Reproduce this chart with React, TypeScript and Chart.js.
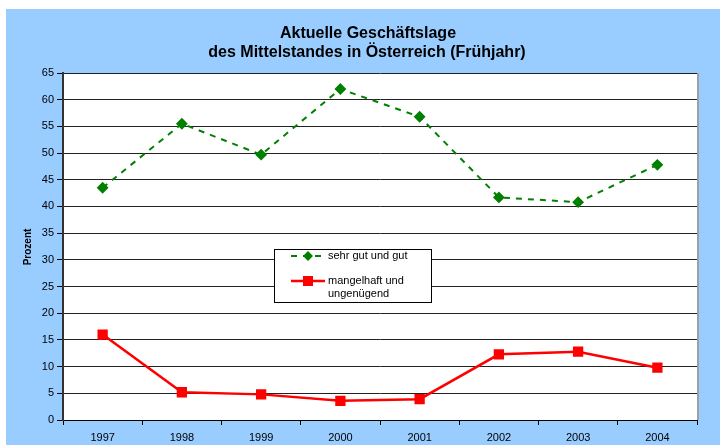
import React, { useEffect, useRef } from "react";
import { Chart, registerables } from "chart.js";

Chart.register(...registerables);

const categories = ["1997", "1998", "1999", "2000", "2001", "2002", "2003", "2004"];
const sehrGutUndGut = [43.5, 55.5, 49.7, 62.0, 56.8, 41.7, 40.8, 47.8];
const mangelhaft = [16.0, 5.2, 4.8, 3.6, 3.9, 12.3, 12.8, 9.8];
const titleLines = ["Aktuelle Geschäftslage", "des Mittelstandes in Österreich (Frühjahr)"];
const yTitle = "Prozent";
const legendLabels = [["sehr gut und gut"], ["mangelhaft und", "ungenügend"]];

const FONT = "'Liberation Sans', Arial, sans-serif";

const bgPlugin = {
  id: "bg",
  beforeDraw(chart: any) {
    const { ctx, chartArea } = chart;
    ctx.save();
    ctx.fillStyle = "#ffffff";
    ctx.fillRect(0, 0, chart.width, chart.height);
    ctx.fillStyle = "#99ccff";
    ctx.fillRect(6, 9, chart.width - 6, chart.height - 12);
    ctx.fillStyle = "#ffffff";
    ctx.fillRect(chartArea.left, chartArea.top, chartArea.right - chartArea.left, chartArea.bottom - chartArea.top);
    ctx.restore();
  },
  afterDraw(chart: any) {
    const { ctx, chartArea } = chart;
    ctx.save();
    ctx.strokeStyle = "#a0a0a0";
    ctx.lineWidth = 2;
    ctx.beginPath();
    ctx.moveTo(chartArea.right + 1, chartArea.top);
    ctx.lineTo(chartArea.right + 1, chartArea.bottom);
    ctx.stroke();
    // title
    ctx.fillStyle = "#000";
    ctx.textAlign = "center";
    ctx.textBaseline = "middle";
    ctx.font = `bold 16px ${FONT}`;
    ctx.fillText(titleLines[0], 368, 34);
    ctx.fillText(titleLines[1], 367, 53);
    // y title
    ctx.save();
    ctx.translate(28, 247);
    ctx.rotate(-Math.PI / 2);
    ctx.font = `bold 10px ${FONT}`;
    ctx.fillText(yTitle, 0, 0);
    ctx.restore();
    // legend
    const lx = 274, ly = 249, lw = 157, lh = 53;
    ctx.fillStyle = "#fff";
    ctx.fillRect(lx, ly, lw, lh);
    ctx.strokeStyle = "#000";
    ctx.lineWidth = 1;
    ctx.strokeRect(lx + 0.5, ly + 0.5, lw, lh);
    const ds = chart.data.datasets;
    const rows = [256, 281];
    ds.forEach((d: any, i: number) => {
      const y = rows[i];
      ctx.save();
      ctx.strokeStyle = d.borderColor;
      ctx.lineWidth = d.borderWidth;
      ctx.setLineDash(d.borderDash || []);
      ctx.beginPath();
      ctx.moveTo(291, y);
      ctx.lineTo(325, y);
      ctx.stroke();
      ctx.restore();
      ctx.fillStyle = d.pointBackgroundColor;
      ctx.save();
      ctx.translate(308, y);
      if (d.pointStyle === "rectRot") {
        ctx.rotate(Math.PI / 4);
        ctx.fillRect(-3.5, -3.5, 7, 7);
      } else {
        ctx.fillRect(-5, -5, 10, 10);
      }
      ctx.restore();
      ctx.fillStyle = "#000";
      ctx.textAlign = "left";
      ctx.font = `11px ${FONT}`;
      legendLabels[i].forEach((t, k) => ctx.fillText(t, 328, y + k * 13));
    });
    ctx.restore();
  },
};

export default function App() {
  const ref = useRef<HTMLCanvasElement>(null);
  useEffect(() => {
    const chart = new Chart(ref.current!, {
      type: "line",
      data: {
        labels: categories,
        datasets: [
          {
            label: legendLabels[0].join(" "),
            data: sehrGutUndGut,
            borderColor: "#008000",
            backgroundColor: "#008000",
            pointBackgroundColor: "#008000",
            pointBorderColor: "#008000",
            borderWidth: 2,
            borderDash: [6, 6],
            pointStyle: "rectRot",
            pointRadius: 4.5,
            tension: 0,
          },
          {
            label: legendLabels[1].join(" "),
            data: mangelhaft,
            borderColor: "#ff0000",
            backgroundColor: "#ff0000",
            pointBackgroundColor: "#ff0000",
            pointBorderColor: "#ff0000",
            borderWidth: 2.5,
            pointStyle: "rect",
            pointRadius: 5.5,
            tension: 0,
          },
        ],
      },
      options: {
        animation: false,
        responsive: false,
        layout: { padding: { left: 0, top: 73, right: 23, bottom: 0 } },
        plugins: { legend: { display: false }, title: { display: false }, tooltip: { enabled: false } },
        scales: {
          x: {
            offset: true,
            grid: { offset: true, drawOnChartArea: false, drawTicks: true, tickLength: 5, color: "#000" },
            border: { color: "#000", width: 1 },
            ticks: { color: "#000", font: { family: FONT, size: 11 }, padding: 6, maxRotation: 0 },
            afterFit(s: any) { s.height = 28; },
          },
          y: {
            min: 0,
            max: 65,
            ticks: { stepSize: 5, color: "#000", font: { family: FONT, size: 11 }, padding: 3 },
            grid: { color: "#222", tickLength: 6, drawTicks: true, tickColor: "#000" },
            border: { color: "#333", width: 2 },
            afterFit(s: any) { s.width = 63; },
          },
        },
      },
      plugins: [bgPlugin],
    });
    return () => chart.destroy();
  }, []);
  return (
    <div style={{ position: "absolute", left: 0, top: 0 }}>
      <canvas ref={ref} width={720} height={448} style={{ width: 720, height: 448 }} />
    </div>
  );
}
